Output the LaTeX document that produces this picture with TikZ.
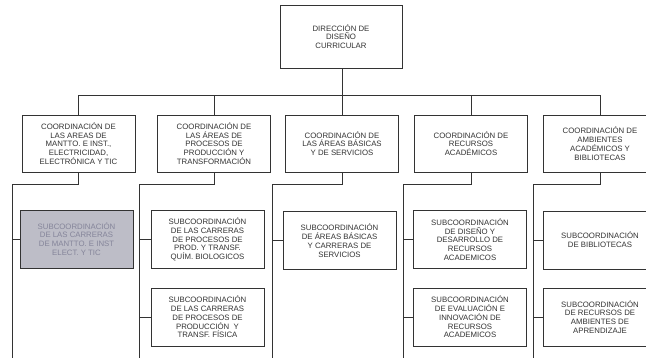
\documentclass[tikz,border=0pt]{standalone}
\usepackage{fontspec}
\setmainfont{Liberation Sans}
\usepackage{tikz}
\usetikzlibrary{positioning}
\definecolor{boxgray}{HTML}{BDBDC7}
\definecolor{graytext}{HTML}{85859A}
\definecolor{ink}{HTML}{333333}

\begin{document}
\begin{tikzpicture}[x=1pt,y=-1pt,
  every node/.style={font=\fontsize{7.8}{8.8}\selectfont, text=ink, align=center, inner sep=0pt},
  unit/.style={draw=ink, line width=0.7pt, fill=white},
  coordbox/.style={unit, minimum width=113pt, minimum height=57pt},
  subbox/.style={unit, minimum width=113pt, minimum height=58pt},
  link/.style={draw=ink, line width=0.7pt}]
\useasboundingbox (0,0) rectangle (646,358);
\clip (0,0) rectangle (646,358);
\fill[white] (0,0) rectangle (646,358);

\node[unit, minimum width=122pt, minimum height=63pt] (dir) at (341,36.5) {DIRECCIÓN DE\\DISEÑO\\CURRICULAR};

\node[coordbox] (c1) at (78.5,143.5) {COORDINACIÓN DE\\LAS AREAS DE\\MANTTO. E INST.,\\ELECTRICIDAD,\\ELECTRÓNICA Y TIC};
\node[coordbox] (c2) at (214,143.5) {COORDINACIÓN DE\\LAS ÁREAS DE\\PROCESOS DE\\PRODUCCIÓN Y\\TRANSFORMACIÓN};
\node[coordbox] (c3) at (342,143.5) {COORDINACIÓN DE\\LAS ÁREAS BÁSICAS\\Y DE SERVICIOS};
\node[coordbox] (c4) at (471,143.5) {COORDINACIÓN DE\\RECURSOS\\ACADÉMICOS};
\node[coordbox, minimum width=114pt] (c5) at (600,143.5) {COORDINACIÓN DE\\AMBIENTES\\ACADÉMICOS Y\\BIBLIOTECAS};

\node[subbox, fill=boxgray, text=graytext] (s1a) at (76.5,239) {SUBCOORDINACIÓN\\DE LAS CARRERAS\\DE MANTTO. E INST\\ELECT. Y TIC};
\node[subbox] (s2a) at (207.5,239.5) {SUBCOORDINACIÓN\\DE LAS CARRERAS\\DE PROCESOS DE\\PROD. Y TRANSF.\\QUÍM. BIOLOGICOS};
\node[subbox] (s2b) at (207.5,317) {SUBCOORDINACIÓN\\DE LAS CARRERAS\\DE PROCESOS DE\\PRODUCCIÓN\ \ Y\\TRANSF. FÍSICA};
\node[subbox] (s3a) at (339.5,240.5) {SUBCOORDINACIÓN\\DE ÁREAS BÁSICAS\\Y CARRERAS DE\\SERVICIOS};
\node[subbox] (s4a) at (470,239.5) {SUBCOORDINACIÓN\\DE DISEÑO Y\\DESARROLLO DE\\RECURSOS\\ACADEMICOS};
\node[subbox] (s4b) at (470,317) {SUBCOORDINACIÓN\\DE EVALUACIÓN E\\INNOVACIÓN DE\\RECURSOS\\ACADEMICOS};
\node[subbox, minimum width=114pt] (s5a) at (600,240) {SUBCOORDINACIÓN\\DE BIBLIOTECAS};
\node[subbox, minimum width=114pt] (s5b) at (600,317) {SUBCOORDINACIÓN\\DE RECURSOS DE\\AMBIENTES DE\\APRENDIZAJE};

\coordinate (bus) at (0,95);
\coordinate (floor) at (0,362);
\coordinate (k1) at (12,184);
\coordinate (k2) at (139,184);
\coordinate (k3) at (272,184);
\coordinate (k4) at (403,184);
\coordinate (k5) at (533,184);

\draw[link] (c3.north) -- (c3.north |- dir.south);
\draw[link] (c1.north) -- (c1.north |- bus) -- (c5.north |- bus) -- (c5.north);
\draw[link] (c2.north) -- (c2.north |- bus);
\draw[link] (c4.north) -- (c4.north |- bus);

\draw[link] (c1.south) |- (k1) -- (k1 |- floor);
\draw[link] (c2.south) |- (k2) -- (k2 |- floor);
\draw[link] (c3.south) |- (k3) -- (k3 |- floor);
\draw[link] (c4.south) |- (k4) -- (k4 |- floor);
\draw[link] (c5.south) |- (k5) -- (k5 |- floor);

\draw[link] (k1 |- s1a.west) -- (s1a.west);
\draw[link] (k2 |- s2a.west) -- (s2a.west);
\draw[link] (k2 |- s2b.west) -- (s2b.west);
\draw[link] (k3 |- s3a.west) -- (s3a.west);
\draw[link] (k4 |- s4a.west) -- (s4a.west);
\draw[link] (k4 |- s4b.west) -- (s4b.west);
\draw[link] (k5 |- s5a.west) -- (s5a.west);
\draw[link] (k5 |- s5b.west) -- (s5b.west);
\end{tikzpicture}
\end{document}
